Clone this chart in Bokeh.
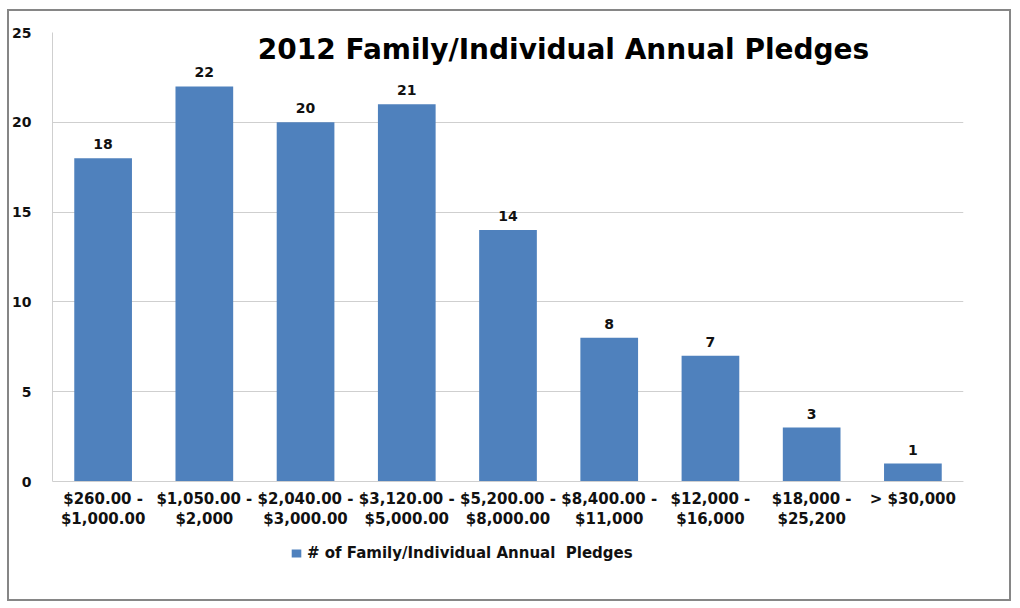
from bokeh.plotting import figure
from bokeh.models import FactorRange, Range1d, Legend, LegendItem, Label, FixedTicker
from bokeh.core.properties import value
from bokeh.embed import file_html
from bokeh.resources import INLINE

categories = [
    "$260.00 -\n$1,000.00",
    "$1,050.00 -\n$2,000",
    "$2,040.00 -\n$3,000.00",
    "$3,120.00 -\n$5,000.00",
    "$5,200.00 -\n$8,000.00",
    "$8,400.00 -\n$11,000",
    "$12,000 -\n$16,000",
    "$18,000 -\n$25,200",
    "> $30,000",
]
counts = [18, 22, 20, 21, 14, 8, 7, 3, 1]
y_ticks = [0, 5, 10, 15, 20, 25]
series_name = "# of Family/Individual Annual  Pledges"
chart_title = "2012 Family/Individual Annual Pledges"

FONT = "DejaVu Sans"
BAR = "#4F81BD"
GRID = "#CFCFCF"

p = figure(
    x_range=FactorRange(*categories, range_padding=0),
    y_range=Range1d(-6.57, 25),
    width=1004, height=592,
    output_backend="svg", toolbar_location=None,
    min_border_left=43, min_border_right=50,
    min_border_top=21, min_border_bottom=4,
)
p.outline_line_color = None
p.styles = {"margin": "9px 0 0 7px", "border": "2px solid #868686"}

r = p.vbar(x=categories, top=counts, width=0.57, fill_color=BAR, line_color=None)

p.text(x=categories, y=counts, text=[str(c) for c in counts],
       text_align="center", text_baseline="alphabetic", y_offset=-14,
       text_font=value(FONT), text_font_style="bold", text_font_size="14px",
       text_color="#111111")

# axes
p.xgrid.grid_line_color = None
p.ygrid.ticker = FixedTicker(ticks=y_ticks)
p.ygrid.grid_line_color = GRID
p.ygrid.bounds = (0, 25)
p.yaxis.ticker = FixedTicker(ticks=y_ticks)
p.yaxis.bounds = (0, 25)
p.xaxis.fixed_location = 0
for ax in (p.xaxis, p.yaxis):
    ax.axis_line_color = GRID
    ax.major_tick_line_color = None
    ax.minor_tick_line_color = None
    ax.major_label_text_font = FONT
    ax.major_label_text_font_style = "bold"
    ax.major_label_text_color = "#111111"
p.yaxis.major_label_text_font_size = "14px"
p.yaxis.major_label_standoff = 15
p.xaxis.major_label_text_font_size = "15px"
p.xaxis.major_label_text_line_height = 1.15
p.xaxis.major_label_standoff = 2

legend = Legend(
    items=[LegendItem(label=series_name, renderers=[r])],
    location=(238, 37), orientation="horizontal",
    border_line_color=None, background_fill_alpha=0,
    padding=0, margin=0, spacing=0,
    glyph_width=12, glyph_height=10, label_standoff=5,
    label_text_font=FONT, label_text_font_style="bold",
    label_text_font_size="15px", label_text_color="#111111",
)
p.add_layout(legend, "center")

p.add_layout(Label(x=511, y=24.05, x_units="screen", y_units="data",
                   text=chart_title, text_align="center", text_baseline="alphabetic",
                   text_font=FONT, text_font_style="bold", text_font_size="28px",
                   text_color="#000000"))

open("out.html", "w").write(file_html(p, INLINE))
